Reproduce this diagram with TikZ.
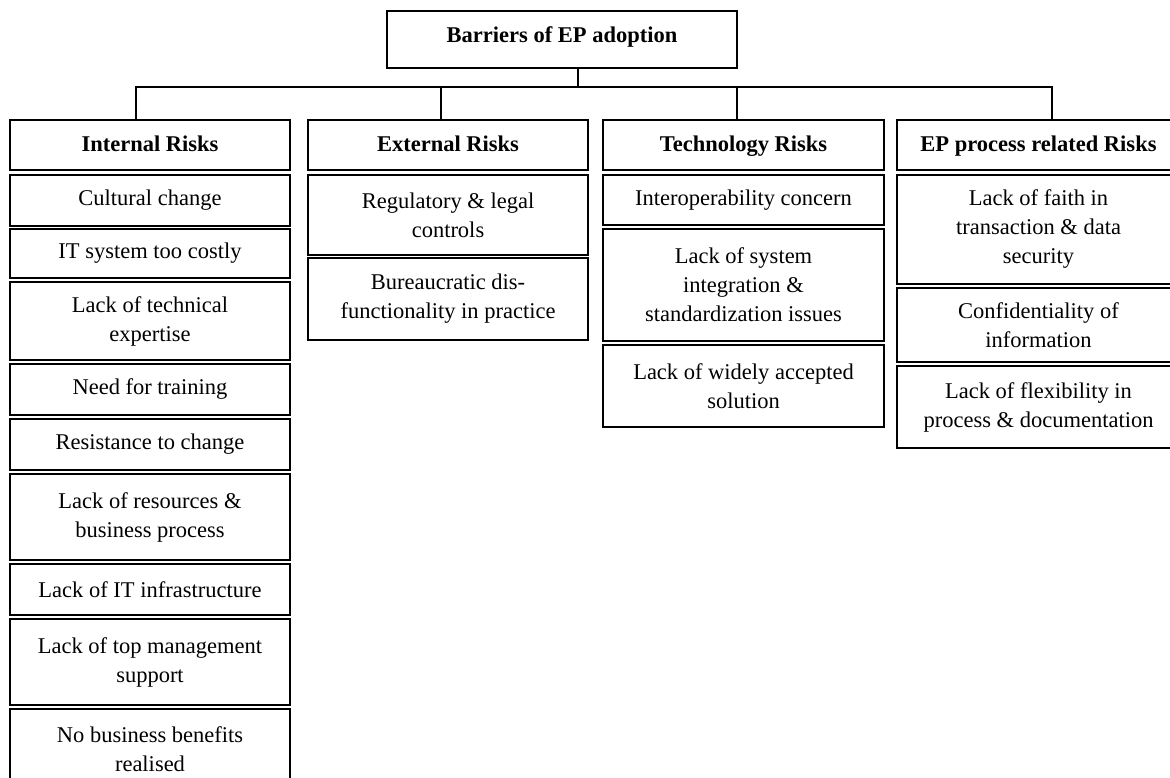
\documentclass[tikz,border=0pt]{standalone}
\usepackage{fontspec}
\setmainfont{Liberation Serif}
\tikzset{
  box/.style={draw, line width=1.6pt, inner sep=0pt, outer sep=0pt, align=center,
    font=\fontsize{22.5}{29}\selectfont},
  head/.style={font=\fontsize{22.5}{29}\selectfont\bfseries, text height=16pt, text depth=2pt},
  link/.style={line width=1.4pt, line cap=rect}
}
\newcommand{\riskbox}[7][]{
  % box from x #3 to #4 and y #5 to #6
  \node[box, #1, minimum width={(#4-#3)*1pt}, minimum height={(#6-#5)*1pt}]
    (#2) at ({(#3+#4)/2}, {(#5+#6)/2}) {#7};
}

\begin{document}
\begin{tikzpicture}[x=1pt, y=-1pt]
	\useasboundingbox[fill=white] (0, 0) rectangle (1170, 778);
	
	\riskbox[head, text height=15pt, text depth=9pt]{barriers}{387}{737}{11}{68}{Barriers of EP adoption}
	
	\riskbox[head]{internal}{10}{290}{120}{170}{Internal Risks}
	\riskbox{cultural}{10}{290}{175}{226}{Cultural change}
	\riskbox{costly}{10}{290}{229}{278}{IT system too costly}
	\riskbox{expertise}{10}{290}{282}{360}{Lack of technical\\expertise}
	\riskbox{training}{10}{290}{364}{415}{Need for training}
	\riskbox{resistance}{10}{290}{419}{470}{Resistance to change}
	\riskbox{resources}{10}{290}{474}{560}{Lack of resources \&\\business process}
	\riskbox{infra}{10}{290}{564}{615}{Lack of IT infrastructure}
	\riskbox{topmgmt}{10}{290}{619}{705}{Lack of top management\\support}
	\riskbox{benefits}{10}{290}{709}{790}{No business benefits\\realised}
	
	\riskbox[head]{external}{308}{588}{120}{170}{External Risks}
	\riskbox{regulatory}{308}{588}{175}{255}{Regulatory \& legal\\controls}
	\riskbox{bureau}{308}{588}{258}{340}{Bureaucratic dis-\\functionality in practice}
	
	\riskbox[head]{technology}{603}{884}{120}{170}{Technology Risks}
	\riskbox{interop}{603}{884}{175}{225}{Interoperability concern}
	\riskbox{integration}{603}{884}{229}{341}{Lack of system\\integration \&\\standardization issues}
	\riskbox{accepted}{603}{884}{345}{427}{Lack of widely accepted\\solution}
	
	\riskbox[head]{process}{897}{1180}{120}{170}{EP process related Risks}
	\riskbox{faith}{897}{1180}{175}{284}{Lack of faith in\\transaction \& data\\security}
	\riskbox{confid}{897}{1180}{288}{362}{Confidentiality of\\information}
	\riskbox{flexib}{897}{1180}{366}{448}{Lack of flexibility in\\process \& documentation}
	
	% tree lines
	\coordinate (hub) at (578, 87);
	\coordinate (bus1) at (136, 87);
	\coordinate (bus2) at (441, 87);
	\coordinate (bus3) at (737, 87);
	\coordinate (bus4) at (1052, 87);
	\draw[link] (barriers.south -| hub) -- (hub);
	\draw[link] (bus1) -- (bus4);
	\draw[link] (bus1) -- (bus1 |- internal.north);
	\draw[link] (bus2) -- (bus2 |- external.north);
	\draw[link] (bus3) -- (bus3 |- technology.north);
	\draw[link] (bus4) -- (bus4 |- process.north);
\end{tikzpicture}
\end{document}
